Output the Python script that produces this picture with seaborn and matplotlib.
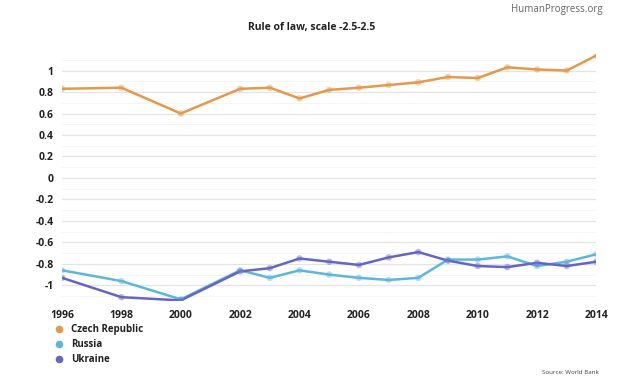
import matplotlib.pyplot as plt
import numpy as np
import pandas as pd
import seaborn as sns
from matplotlib.lines import Line2D
from matplotlib.ticker import MultipleLocator

# Values
years = [1996, 1998, 2000, 2002, 2003, 2004, 2005, 2006, 2007, 2008,
         2009, 2010, 2011, 2012, 2013, 2014]
czech = [0.83, 0.84, 0.60, 0.83, 0.84, 0.74, 0.82, 0.84, 0.865, 0.89,
         0.94, 0.93, 1.03, 1.01, 1.00, 1.14]
russia = [-0.86, -0.96, -1.13, -0.86, -0.93, -0.86, -0.90, -0.93, -0.95, -0.93,
          -0.76, -0.76, -0.73, -0.82, -0.78, -0.71]
ukraine = [-0.93, -1.11, -1.14, -0.87, -0.84, -0.75, -0.78, -0.81, -0.74, -0.69,
           -0.77, -0.82, -0.83, -0.79, -0.82, -0.78]
countries = ["Czech Republic", "Russia", "Ukraine"]
palette = {"Czech Republic": "#E5994A", "Russia": "#5DB7DD", "Ukraine": "#6565C8"}

df = pd.concat([
    pd.DataFrame({"Year": years, "Value": vals, "Country": name})
    for name, vals in zip(countries, [czech, russia, ukraine])
])

sns.set_style("white")
plt.rcParams["font.family"] = ["Open Sans", "DejaVu Sans"]

fig = plt.figure(figsize=(6.24, 3.86), dpi=100)
ax = fig.add_axes([0.0994, 0.219, 0.8564, 0.640])

sns.lineplot(data=df, x="Year", y="Value", hue="Country", palette=palette,
             linewidth=1.8, legend=False, ax=ax, zorder=3)
sns.scatterplot(data=df, x="Year", y="Value", hue="Country", palette=palette,
                s=22, alpha=0.45, linewidth=0, legend=False, ax=ax, zorder=4)

ax.set_xlim(1996, 2014)
ax.set_ylim(-1.15, 1.15)
ax.set_xticks(range(1996, 2015, 2))
ax.set_yticks(np.arange(-1, 1.01, 0.2).round(1))
ax.set_yticklabels(["-1", "-0.8", "-0.6", "-0.4", "-0.2", "0",
                    "0.2", "0.4", "0.6", "0.8", "1"])
ax.yaxis.set_minor_locator(MultipleLocator(0.1))
ax.grid(axis="y", which="major", color="#e4e4e4", linewidth=0.9, zorder=0)
ax.grid(axis="y", which="minor", color="#f5f5f5", linewidth=0.7, zorder=0)
ax.grid(axis="x", visible=False)
sns.despine(ax=ax, left=True, bottom=True)
ax.tick_params(axis="both", which="both", length=0, labelsize=7.5, colors="#222222")
ax.tick_params(axis="x", pad=6)
ax.tick_params(axis="y", pad=6)
for lab in ax.get_xticklabels() + ax.get_yticklabels():
    lab.set_fontweight("bold")
ax.set_xlabel("")
ax.set_ylabel("")

fig.text(0.5, 0.93, "Rule of law, scale -2.5-2.5", ha="center", va="center",
         fontsize=7.5, fontweight="bold", color="#222222")
fig.text(0.965, 0.975, "HumanProgress.org", ha="right", va="center",
         fontsize=7, color="#666666")
fig.text(0.96, 0.035, "Source: World Bank", ha="right", va="center",
         fontsize=4.5, color="#444444")

handles = [Line2D([], [], marker="o", linestyle="", markersize=5.5,
                  markerfacecolor=palette[c], markeredgewidth=0) for c in countries]
leg = fig.legend(handles, countries, loc="upper left", bbox_to_anchor=(0.072, 0.182),
                 frameon=False, handlelength=1.0, handletextpad=0.8,
                 labelspacing=0.4, prop={"size": 7, "weight": "bold"})
for t in leg.get_texts():
    t.set_color("#222222")

fig.savefig("out.png", dpi=100)
